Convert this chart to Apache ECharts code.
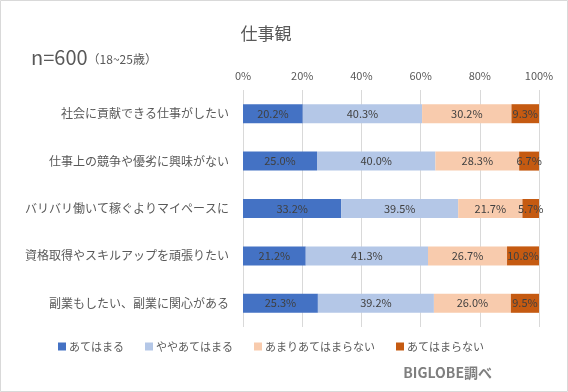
<!DOCTYPE html>
<html><head><meta charset="utf-8">
<script src="https://cdn.jsdelivr.net/npm/echarts@6/dist/echarts.min.js"></script>
<style>html,body{margin:0;padding:0;background:#fff}#c{width:568px;height:392px}</style>
</head><body><div id="c"></div>
<script>
var categories = ['社会に貢献できる仕事がしたい','仕事上の競争や優劣に興味がない','バリバリ働いて稼ぐよりマイペースに','資格取得やスキルアップを頑張りたい','副業もしたい、副業に関心がある'];
var seriesNames = ['あてはまる','ややあてはまる','あまりあてはまらない','あてはまらない'];
var s1 = [20.2, 25.0, 33.2, 21.2, 25.3];
var s2 = [40.3, 40.0, 39.5, 41.3, 39.2];
var s3 = [30.2, 28.3, 21.7, 26.7, 26.0];
var s4 = [9.3, 6.7, 5.7, 10.8, 9.5];
var colors = ['#4472C4','#B4C7E7','#F8CBAD','#C55A11'];
var FONT = 'Noto Sans CJK JP';
var chart = echarts.init(document.getElementById('c'));
var all = [s1,s2,s3,s4];
chart.setOption({
  animation:false,
  textStyle:{fontFamily:FONT},
  graphic:[{type:'rect',shape:{x:0.5,y:0.5,width:567,height:391},style:{fill:'none',stroke:'#d9d9d9',lineWidth:1}}],
  title:[
    {text:'仕事観',left:261,top:20,textAlign:'center',textStyle:{fontSize:17,fontWeight:'normal',color:'#595959',fontFamily:FONT}},
    {text:'{a|n=600}{b|（18~25歳）}',left:26,top:42,textStyle:{fontWeight:'normal',rich:{a:{fontSize:20,fontWeight:'normal',color:'#595959',fontFamily:FONT},b:{fontSize:12,fontWeight:'normal',color:'#595959',fontFamily:FONT,padding:[4,0,0,0]}}}},
    {text:'BIGLOBE調べ',right:71,top:361,textStyle:{fontSize:14,fontWeight:'bold',color:'#7f7f7f',fontFamily:FONT}}
  ],
  legend:{data:seriesNames,left:53,top:336,itemWidth:8,itemHeight:8,itemGap:21,icon:'rect',textStyle:{fontSize:11,color:'#595959',fontFamily:FONT,padding:[0,0,0,-2]}},
  grid:{left:243,right:29,top:90,bottom:65,containLabel:false},
  xAxis:{type:'value',min:0,max:100,interval:20,position:'top',
    axisLine:{show:false},axisTick:{show:false},
    axisLabel:{formatter:'{value}%',color:'#595959',fontSize:11,margin:9},
    splitLine:{lineStyle:{color:'#d9d9d9'}}},
  yAxis:{type:'category',data:categories,inverse:true,
    axisLine:{show:false},axisTick:{show:false},
    axisLabel:{color:'#595959',fontSize:12,margin:14}},
  series: all.map(function(d,i){return {
    name:seriesNames[i],type:'bar',stack:'t',barWidth:19,data:d,
    itemStyle:{color:colors[i]},
    label:{show:true,position:'inside',color:'#404040',fontSize:11,formatter:function(p){return p.value.toFixed(1)+'%';}}
  };})
});
</script></body></html>
